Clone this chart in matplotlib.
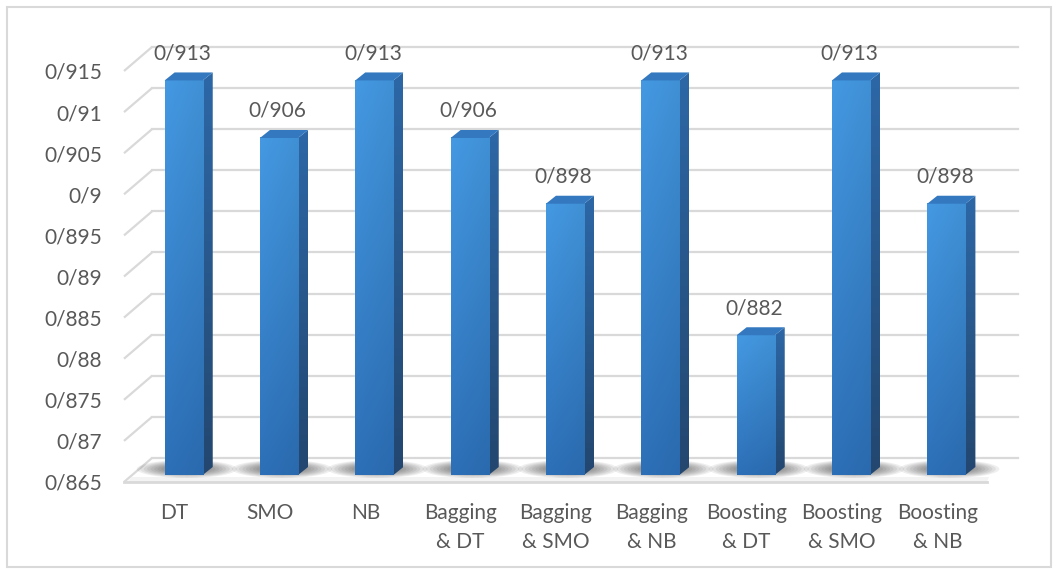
import numpy as np
import matplotlib.pyplot as plt
from matplotlib.patches import Polygon, Rectangle, Ellipse
from matplotlib.colors import to_rgb

models = ['DT', 'SMO', 'NB', 'Bagging\n& DT', 'Bagging\n& SMO', 'Bagging\n& NB',
          'Boosting\n& DT', 'Boosting\n& SMO', 'Boosting\n& NB']
accuracy = [0.913, 0.906, 0.913, 0.906, 0.898, 0.913, 0.882, 0.913, 0.898]
y_ticks = [0.865, 0.87, 0.875, 0.88, 0.885, 0.89, 0.895, 0.9, 0.905, 0.91, 0.915]
y_labels = ['0/865', '0/87', '0/875', '0/88', '0/885', '0/89', '0/895', '0/9',
            '0/905', '0/91', '0/915']

plt.rcParams['font.family'] = ['Lato', 'DejaVu Sans']
TXT = '#595959'
GRID = '#d9d9d9'

W, H = 1058, 573
fig = plt.figure(figsize=(W / 100, H / 100), dpi=100)
ax_w, ax_h = 858, 411
ax = fig.add_axes([127 / W, (H - 482) / H, ax_w / W, ax_h / H])
n = len(models)
ymin, ymax = y_ticks[0], y_ticks[-1]
ax.set_xlim(-0.5, n - 0.5)
ax.set_ylim(ymin, ymax)
for s in ax.spines.values():
    s.set_visible(False)

# data units per pixel
ux = n / ax_w
uy = (ymax - ymin) / ax_h

# back wall / floor depth and bar depth (pixels)
wall_dx, wall_dy = 25 * ux, 24 * uy
bar_off_x, bar_off_y = 9 * ux, 7 * uy
bar_dx, bar_dy = 10 * ux, 8 * uy
bw = 0.4

x_left = -0.5
x_right_back = n - 0.5 + 8 * ux

# floor
ax.add_patch(Polygon([(x_left, ymin), (n - 0.5 + 2 * ux, ymin),
                      (x_right_back + wall_dx, ymin + wall_dy), (x_left + wall_dx, ymin + wall_dy)],
                     closed=True, fc='white', ec='none', zorder=0, clip_on=False))
ax.add_patch(Polygon([(x_left, ymin), (n - 0.5 + 2 * ux, ymin),
                      (n - 0.5 + 4 * ux, ymin + 5 * uy), (x_left + 5 * ux, ymin + 5 * uy)],
                     closed=True, fc='#f3f3f3', ec='none', zorder=0.5, clip_on=False))

# side wall diagonals + back wall gridlines
for v in y_ticks:
    ax.plot([x_left - 3 * ux, x_left + wall_dx], [v, v + wall_dy], color=GRID, lw=1.6,
            clip_on=False, zorder=1, solid_capstyle='butt')
    ax.plot([x_left + wall_dx, x_right_back + wall_dx], [v + wall_dy, v + wall_dy],
            color=GRID, lw=1.6, clip_on=False, zorder=1)
ax.plot([x_left - 3 * ux, n - 0.5 + 2 * ux], [ymin, ymin], color=GRID, lw=2,
        clip_on=False, zorder=1)


def grad_img(c_top, c_bot, right_fade=0.0, rows=60, cols=20):
    top = np.array(to_rgb(c_top))
    bot = np.array(to_rgb(c_bot))
    t = np.linspace(0, 1, rows)[:, None, None]
    img = top * (1 - t) + bot * t
    img = np.repeat(img, cols, axis=1)
    h = np.linspace(0, 1, cols)[None, :, None]
    img = img * (1 - right_fade * h)
    return np.clip(img, 0, 1)


for i, v in enumerate(accuracy):
    left = i - bw / 2 + bar_off_x
    right = left + bw
    bottom = ymin + bar_off_y
    top = v + bar_off_y

    # soft floor shadow
    cx = (left + right) / 2 + 3 * ux
    cy = ymin + 13 * uy
    for k in range(8):
        ax.add_patch(Ellipse((cx, cy), (100 - 7 * k) * ux, (18 - 1.4 * k) * uy,
                             fc='#333333', ec='none', alpha=0.08, zorder=2, clip_on=False))

    # side face, clipped to its parallelogram
    side = Polygon([(right, bottom), (right + bar_dx, bottom + bar_dy),
                    (right + bar_dx, top + bar_dy), (right, top)],
                   closed=True, fc='none', ec='none', transform=ax.transData)
    im = ax.imshow(grad_img('#2d67a6', '#23476f'), extent=(right, right + bar_dx, bottom, top + bar_dy),
                   aspect='auto', interpolation='bilinear', zorder=3)
    im.set_clip_path(side)

    # front face
    ax.imshow(grad_img('#4499e2', '#2d70b8', 0.06), extent=(left, right, bottom, top),
              aspect='auto', interpolation='bilinear', zorder=4, clip_on=False)

    # top face
    ax.add_patch(Polygon([(left, top), (right, top), (right + bar_dx, top + bar_dy),
                          (left + bar_dx, top + bar_dy)],
                         closed=True, fc='#3479c0', ec='none', zorder=5, clip_on=False))

    ax.annotate(f'{v:g}'.replace('.', '/'), xy=((left + right) / 2, top),
                xytext=(-1, 19.5), textcoords='offset points', ha='center', va='center',
                fontsize=15, color=TXT, annotation_clip=False)

ax.set_xlim(-0.5, n - 0.5)
ax.set_ylim(ymin, ymax)
ax.set_xticks(range(n), models)
ax.set_yticks(y_ticks, y_labels)
ax.tick_params(axis='both', length=0, labelsize=15, labelcolor=TXT)
ax.tick_params(axis='y', pad=18)
ax.tick_params(axis='x', pad=15)
for lbl in ax.get_xticklabels():
    lbl.set_linespacing(1.6)

fig.add_artist(Rectangle((7 / W, 6 / H), 1044 / W, 560 / H, transform=fig.transFigure,
                         fill=False, ec=GRID, lw=1.5))

fig.savefig('out.png', dpi=100, facecolor='white')
